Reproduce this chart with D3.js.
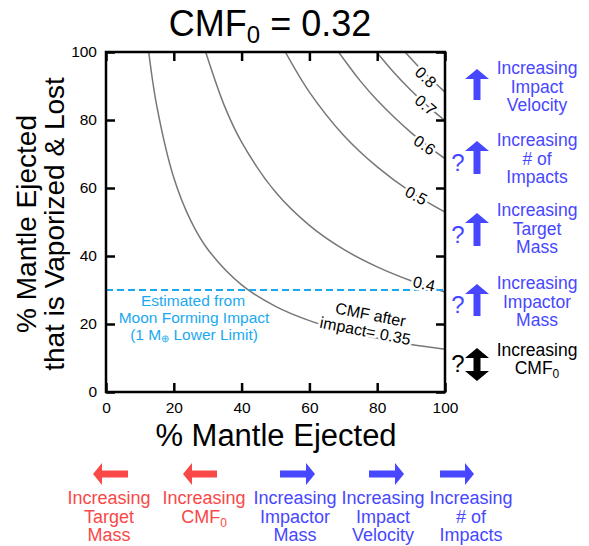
<!DOCTYPE html>
<html>
<head>
<meta charset="utf-8">
<script src="https://cdn.jsdelivr.net/npm/d3@7"></script>
<style>
  body { margin: 0; background: #fff; }
  svg { font-family: "Liberation Sans", Arial, Helvetica, sans-serif; }
</style>
</head>
<body>
<svg id="chart" width="589" height="546"></svg>
<script>
// axis ticks
var xTicks = [0, 20, 40, 60, 80, 100];
var yTicks = [0, 20, 40, 60, 80, 100];

// contour lines (CMF after impact): [x %, y %]
var cmfLevels = ["0.35", "0.4", "0.5", "0.6", "0.7", "0.8"];
var curve035 = [[12.6,100],[15,84],[20,63],[25,50.4],[30,42],[40,31.5],[50,25.2],[60,21],[70,18],[80,15.8],[90,14],[100,12.6]];
var curve04  = [[29.4,100],[35,84],[40,73.5],[50,58.8],[60,49],[70,42],[80,36.8],[90,32.7],[100,29.4]];
var curve05  = [[52.9,100],[60,88.2],[70,75.6],[80,66.2],[90,58.8],[100,52.9]];
var curve06  = [[68.6,100],[75,91.5],[80,85.8],[90,76.3],[100,68.6]];
var curve07  = [[79.8,100],[85,93.9],[90,88.7],[95,84],[100,79.8]];
var curve08  = [[88.2,100],[92,95.9],[96,91.9],[100,88.2]];
var curves = [curve035, curve04, curve05, curve06, curve07, curve08];

// moon forming impact estimate
var moonLimit = 30;
var moonText = ["Estimated from", "Moon Forming Impact"];

// annotations
var sideNotes = [
  {lines: ["Increasing", "Impact", "Velocity"], q: false},
  {lines: ["Increasing", "# of", "Impacts"], q: true},
  {lines: ["Increasing", "Target", "Mass"], q: true},
  {lines: ["Increasing", "Impactor", "Mass"], q: true}
];
var bottomNotes = [
  {lines: ["Increasing", "Target", "Mass"], dir: "left"},
  {lines: ["Increasing", "CMF"], dir: "left"},
  {lines: ["Increasing", "Impactor", "Mass"], dir: "right"},
  {lines: ["Increasing", "Impact", "Velocity"], dir: "right"},
  {lines: ["Increasing", "# of", "Impacts"], dir: "right"}
];

var blue = "#4747ff", red = "#f94848", sky = "#1aa9f0";

var svg = d3.select("#chart");
var pLeft = 106, pRight = 445, pTop = 52, pBottom = 392;

var x = d3.scaleLinear().domain([0, 100]).range([pLeft, pRight]);
var y = d3.scaleLinear().domain([0, 100]).range([pBottom, pTop]);

// title
var title = svg.append("text").attr("x", 270).attr("y", 36)
  .attr("text-anchor", "middle").attr("font-size", 36).attr("fill", "#000");
title.append("tspan").text("CMF");
title.append("tspan").text("0").attr("font-size", 24).attr("dy", 7);
title.append("tspan").text(" = 0.32").attr("dy", -7);

svg.append("defs").append("clipPath").attr("id", "plotclip")
  .append("rect").attr("x", pLeft).attr("y", pTop).attr("width", pRight - pLeft).attr("height", pBottom - pTop);

// contour curves
var line = d3.line().x(d => x(d[0])).y(d => y(d[1])).curve(d3.curveCatmullRom);
svg.append("g").attr("clip-path", "url(#plotclip)")
  .selectAll("path").data(curves).enter().append("path")
  .attr("d", line).attr("fill", "none").attr("stroke", "#777").attr("stroke-width", 1.5);

// dashed moon line
svg.append("line").attr("x1", x(0)).attr("x2", x(100)).attr("y1", y(moonLimit)).attr("y2", y(moonLimit))
  .attr("stroke", sky).attr("stroke-width", 2).attr("stroke-dasharray", "7,4");

// contour labels [level index, x, y, angle]
var labelPos = [[5, 94.3, 92.6, 44], [4, 94.3, 84.4, 40], [3, 94, 72.6, 34], [2, 91.5, 57.8, 28], [1, 93.8, 31.8, 13]];
labelPos.forEach(function(p) {
  svg.append("text")
    .attr("transform", "translate(" + x(p[1]) + "," + y(p[2]) + ") rotate(" + p[3] + ")")
    .attr("text-anchor", "middle").attr("dy", "0.35em").attr("font-size", 16)
    .attr("stroke", "#fff").attr("stroke-width", 5).attr("paint-order", "stroke")
    .text(cmfLevels[p[0]]);
});
var cmf035 = svg.append("g").attr("transform", "translate(" + x(77.5) + "," + y(20) + ") rotate(11)");
cmf035.append("text").attr("text-anchor", "middle").attr("x", 0).attr("y", -4).attr("font-size", 16)
  .attr("stroke", "#fff").attr("stroke-width", 5).attr("paint-order", "stroke").text("CMF after");
cmf035.append("text").attr("text-anchor", "middle").attr("x", -2).attr("y", 13).attr("font-size", 16)
  .attr("stroke", "#fff").attr("stroke-width", 5).attr("paint-order", "stroke").text("impact=  " + cmfLevels[0]);

// moon text
var mt = svg.append("text").attr("text-anchor", "middle").attr("fill", sky).attr("font-size", 15.5);
mt.append("tspan").attr("x", 193).attr("y", 306).text(moonText[0]);
mt.append("tspan").attr("x", 194).attr("y", 323).text(moonText[1]);
mt.append("tspan").attr("x", 194).attr("y", 340).text("(1 M");
mt.append("tspan").attr("font-size", 10).attr("dy", 2).text("\u2295");
mt.append("tspan").attr("dy", -2).text(" Lower Limit)");

// frame
svg.append("rect").attr("x", pLeft).attr("y", pTop).attr("width", pRight - pLeft).attr("height", pBottom - pTop)
  .attr("fill", "none").attr("stroke", "#000").attr("stroke-width", 2.5);

// axes with inward ticks on all sides
svg.append("g").attr("transform", "translate(0," + pBottom + ")")
  .call(d3.axisBottom(x).tickValues(xTicks).tickSize(-9).tickPadding(10))
  .call(g => g.select(".domain").remove())
  .call(g => g.selectAll("line").attr("stroke-width", 2.5))
  .call(g => g.selectAll("text").attr("font-size", 15.5).attr("font-family", "Liberation Sans, Arial, sans-serif"));
svg.append("g").attr("transform", "translate(0," + pTop + ")")
  .call(d3.axisTop(x).tickValues(xTicks).tickSize(-9).tickFormat(""))
  .call(g => g.select(".domain").remove())
  .call(g => g.selectAll("line").attr("stroke-width", 2.5));
svg.append("g").attr("transform", "translate(" + pLeft + ",0)")
  .call(d3.axisLeft(y).tickValues(yTicks).tickSize(-9).tickPadding(9))
  .call(g => g.select(".domain").remove())
  .call(g => g.selectAll("line").attr("stroke-width", 2.5))
  .call(g => g.selectAll("text").attr("font-size", 15.5).attr("font-family", "Liberation Sans, Arial, sans-serif"));
svg.append("g").attr("transform", "translate(" + pRight + ",0)")
  .call(d3.axisRight(y).tickValues(yTicks).tickSize(-9).tickFormat(""))
  .call(g => g.select(".domain").remove())
  .call(g => g.selectAll("line").attr("stroke-width", 2.5));

// axis titles
svg.append("text").attr("x", 276).attr("y", 446).attr("text-anchor", "middle")
  .attr("font-size", 31).text("% Mantle Ejected");
var yl = svg.append("text").attr("transform", "translate(0,224) rotate(-90)")
  .attr("text-anchor", "middle").attr("font-size", 28);
yl.append("tspan").attr("x", 0).attr("y", 36).text("% Mantle Ejected");
yl.append("tspan").attr("x", 0).attr("y", 64).text("that is Vaporized & Lost");

// arrow helpers
function upArrow(g, cx, y0, y1, col) {
  g.append("path").attr("fill", col)
    .attr("d", "M" + (cx - 3.5) + "," + y1 + "V" + (y0 + 10) + "H" + (cx - 12) + "L" + cx + "," + y0 +
      "L" + (cx + 12) + "," + (y0 + 10) + "H" + (cx + 3.5) + "V" + y1 + "Z");
}
function hArrow(g, xTip, xTail, cy, col) {
  var s = xTip < xTail ? 1 : -1;
  g.append("path").attr("fill", col)
    .attr("d", "M" + xTail + "," + (cy - 3.5) + "H" + (xTip + s * 9) + "V" + (cy - 11) + "L" + xTip + "," + cy +
      "L" + (xTip + s * 9) + "," + (cy + 11) + "V" + (cy + 3.5) + "H" + xTail + "Z");
}

// right-hand notes
var sideTop = [[69, 100, 74], [141, 174, 146], [213, 246, 216], [284, 316, 289]];
sideNotes.forEach(function(n, i) {
  var g = svg.append("g");
  upArrow(g, 477, sideTop[i][0], sideTop[i][1], blue);
  if (n.q) g.append("text").attr("x", 458).attr("y", sideTop[i][1] - 3).attr("text-anchor", "middle")
    .attr("font-size", 24).attr("fill", blue).text("?");
  var t = g.append("text").attr("text-anchor", "middle").attr("fill", blue).attr("font-size", 17.5);
  n.lines.forEach(function(l, j) {
    t.append("tspan").attr("x", 537).attr("y", sideTop[i][2] + j * 18.7).text(l);
  });
});
// CMF0 double arrow (black)
var g5 = svg.append("g");
g5.append("path").attr("fill", "#000")
  .attr("d", "M473.5,358H465L477,348L489,358H480.5V371H489L477,381L465,371H473.5Z");
g5.append("text").attr("x", 458).attr("y", 372).attr("text-anchor", "middle").attr("font-size", 24).text("?");
g5.append("text").attr("text-anchor", "middle").attr("font-size", 17.5).attr("x", 537).attr("y", 356).text("Increasing");
var t5b = g5.append("text").attr("text-anchor", "middle").attr("font-size", 17.5).attr("x", 537).attr("y", 374);
t5b.append("tspan").text("CMF");
t5b.append("tspan").attr("font-size", 12).attr("dy", 4).text("0");

// bottom notes
var bottomX = [[93, 128, 109], [183, 217, 204], [315, 280, 295], [404, 369, 383], [474, 440, 471]];
bottomNotes.forEach(function(n, i) {
  var col = n.dir === "left" ? red : blue;
  var g = svg.append("g");
  hArrow(g, bottomX[i][0], bottomX[i][1], 474, col);
  n.lines.forEach(function(l, j) {
    var t = g.append("text").attr("text-anchor", "middle").attr("fill", col).attr("font-size", 18)
      .attr("x", bottomX[i][2]).attr("y", 504 + j * 18.5);
    t.append("tspan").text(l);
    if (l === "CMF") t.append("tspan").attr("font-size", 12).attr("dy", 4).text("0");
  });
});
</script>
</body>
</html>
